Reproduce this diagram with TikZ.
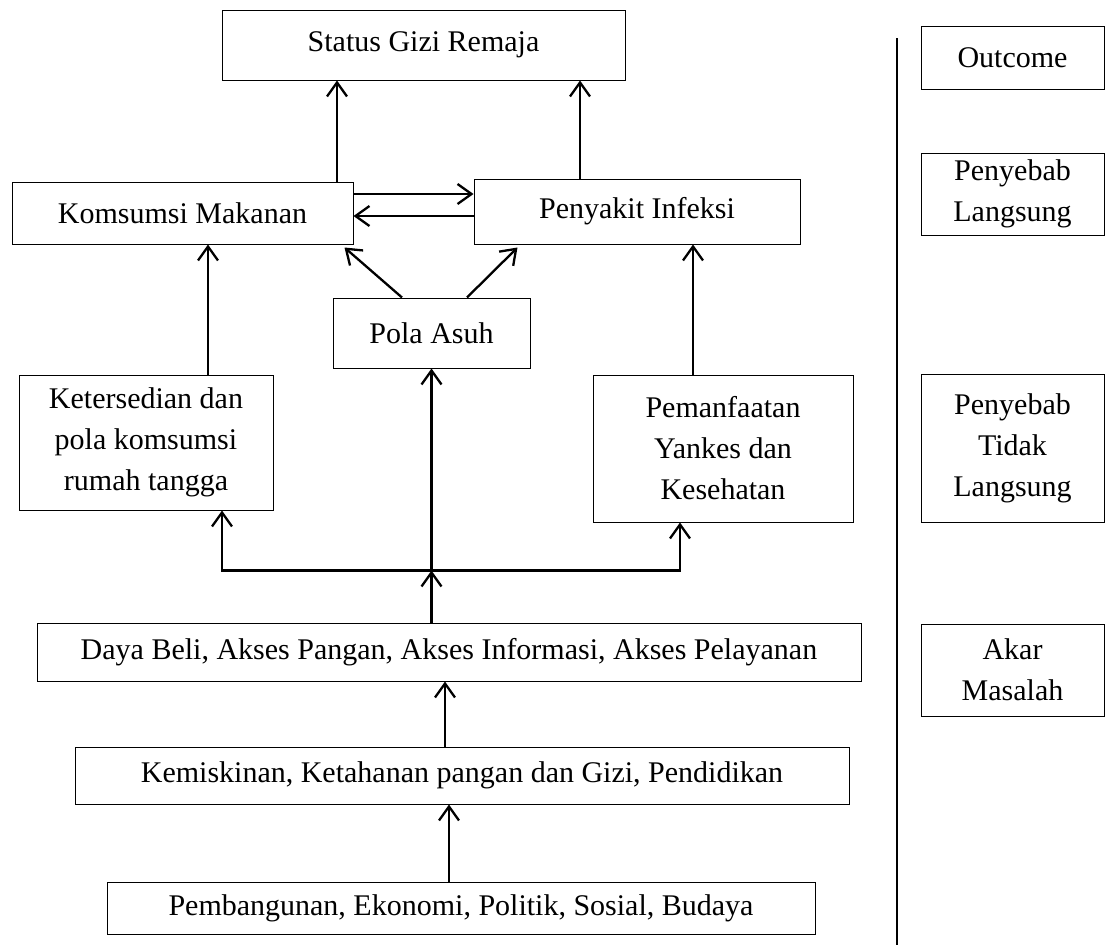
\documentclass[tikz,border=0pt]{standalone}
\usepackage{fontspec}
\setmainfont{Liberation Serif}
\usepackage{tikz}
\usetikzlibrary{arrows.meta}
\tikzset{every node/.style={font=\fontsize{30}{41}\selectfont}}
\colorlet{boxcol}{black}
\colorlet{linkcol}{black}
\tikzset{
  box/.style={draw=boxcol, line width=1pt, inner sep=0pt, align=center},
  link/.style={->, line width=2.3pt, linkcol},
}

\begin{document}
\begin{tikzpicture}[x=1pt, y=-1pt, >={Straight Barb[length=14pt, width=20pt]}]

  \useasboundingbox (0,0) rectangle (1107,948);

  % Main boxes.
  \node[box, minimum width=403, minimum height=70] (status) at (423.5,45) {Status Gizi Remaja};
  \node[box, minimum width=341, minimum height=62] (komsumsi) at (182.5,213) {Komsumsi Makanan};
  \node[box, minimum width=326, minimum height=65] (penyakit) at (637,211.5) {Penyakit Infeksi};
  \node[box, minimum width=197, minimum height=70] (pola) at (431.5,333) {Pola Asuh};
  \node[box, minimum width=254, minimum height=135] (ketersedian) at (146,442.5)
    {Ketersedian dan\\pola komsumsi\\rumah tangga};
  \node[box, minimum width=260, minimum height=147] (pemanfaatan) at (723,448.5)
    {Pemanfaatan\\Yankes dan\\Kesehatan};
  \node[box, minimum width=824, minimum height=58] (daya) at (449,652)
    {Daya Beli, Akses Pangan, Akses Informasi, Akses Pelayanan};
  \node[box, minimum width=774, minimum height=57] (kemiskinan) at (462,775.5)
    {Kemiskinan, Ketahanan pangan dan Gizi, Pendidikan};
  \node[box, minimum width=708, minimum height=52] (pembangunan) at (461,908)
    {Pembangunan, Ekonomi, Politik, Sosial, Budaya};

  % Level boxes (right column).
  \node[box, minimum width=183, minimum height=63] (outcome) at (1012.5,57.5) {Outcome};
  \node[box, minimum width=183, minimum height=82] (langsung) at (1012.5,194) {Penyebab\\Langsung};
  \node[box, minimum width=183, minimum height=148] (tidaklangsung) at (1012.5,448)
    {Penyebab\\Tidak\\Langsung};
  \node[box, minimum width=183, minimum height=92] (akar) at (1012.5,670) {Akar\\Masalah};

  % Divider.
  \coordinate (divtop) at (897,38);
  \coordinate (divbot) at (897,945);
  \draw[line width=1.2pt] (divtop) -- (divbot);

  % Direct causes -> outcome.
  \coordinate (k1) at ([xshift=154.5pt]komsumsi.north);
  \coordinate (p1) at ([xshift=-57pt]penyakit.north);
  \draw[link] (k1) -- (k1 |- status.south);
  \draw[link] (p1) -- (p1 |- status.south);

  % Two-way link between direct causes.
  \coordinate (k2) at ([yshift=19pt]komsumsi.east);
  \coordinate (p2) at ([yshift=-4.5pt]penyakit.west);
  \draw[link] (k2) -- (k2 -| penyakit.west);
  \draw[link] (p2) -- (p2 -| komsumsi.east);

  % Pola Asuh -> direct causes.
  \draw[link] ([xshift=-29.5pt]pola.north) -- ([xshift=-9pt, yshift=-3pt]komsumsi.south east);
  \draw[link] ([xshift=35.5pt]pola.north) -- ([xshift=44pt, yshift=-3pt]penyakit.south west);

  % Indirect causes -> direct causes.
  \coordinate (t1) at ([xshift=62pt]ketersedian.north);
  \coordinate (m1) at ([xshift=-30pt]pemanfaatan.north);
  \draw[link] (t1) -- (t1 |- komsumsi.south);
  \draw[link] (m1) -- (m1 |- penyakit.south);

  % Root -> indirect causes (branching).
  \coordinate (dn) at (daya.north -| pola.south);
  \coordinate (j) at ([yshift=52pt]dn);
  \draw[link] (dn) -- (j);
  \draw[link] (j) -- (pola.south);
  \draw[link] (j) -| ([xshift=76pt]ketersedian.south);
  \draw[link] (j) -| ([xshift=-43pt]pemanfaatan.south);

  % Basic causes.
  \coordinate (e1) at ([xshift=-17pt]kemiskinan.north);
  \coordinate (b1) at ([xshift=-12pt]pembangunan.north);
  \draw[link] (e1) -- (e1 |- daya.south);
  \draw[link] (b1) -- (b1 |- kemiskinan.south);

\end{tikzpicture}
\end{document}
